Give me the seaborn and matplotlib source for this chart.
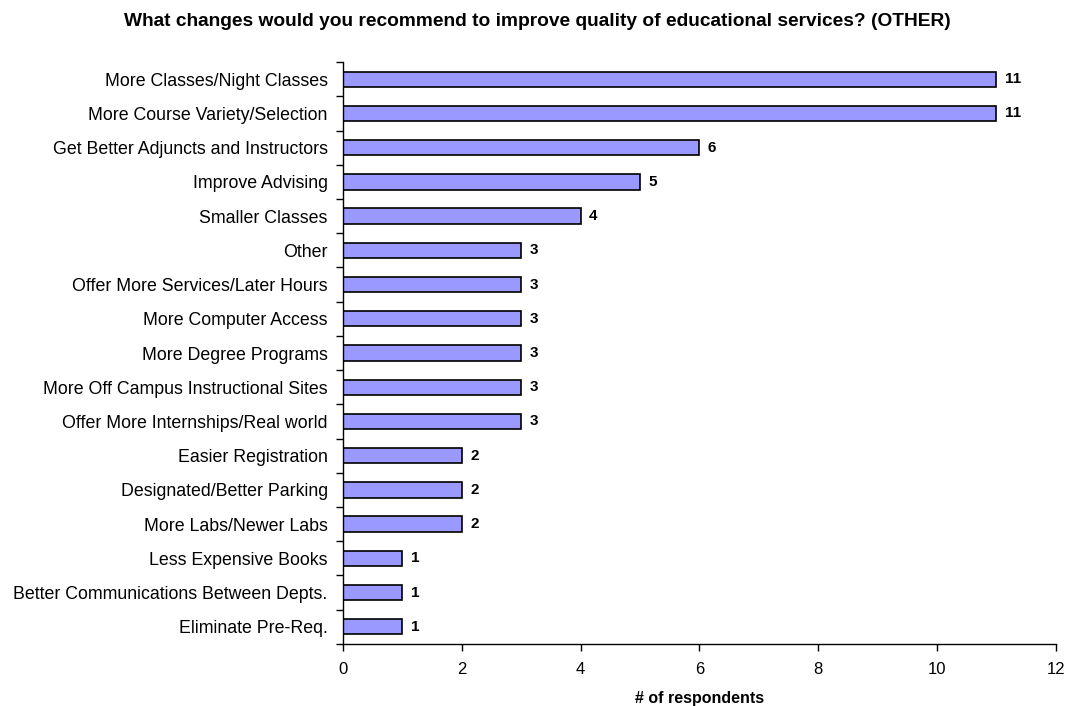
import matplotlib.pyplot as plt
import numpy as np
import pandas as pd
import seaborn as sns

sns.set_style("white")
plt.rcParams["font.family"] = ["Liberation Sans", "DejaVu Sans"]
plt.rcParams["text.color"] = "black"
plt.rcParams["axes.labelcolor"] = "black"
plt.rcParams["xtick.color"] = "black"
plt.rcParams["ytick.color"] = "black"

# Data
categories = [
    "More Classes/Night Classes",
    "More Course Variety/Selection",
    "Get Better Adjuncts and Instructors",
    "Improve Advising",
    "Smaller Classes",
    "Other",
    "Offer More Services/Later Hours",
    "More Computer Access",
    "More Degree Programs",
    "More Off Campus Instructional Sites",
    "Offer More Internships/Real world",
    "Easier Registration",
    "Designated/Better Parking",
    "More Labs/Newer Labs",
    "Less Expensive Books",
    "Better Communications Between Depts.",
    "Eliminate Pre-Req.",
]
counts = [11, 11, 6, 5, 4, 3, 3, 3, 3, 3, 3, 2, 2, 2, 1, 1, 1]
xticks = [0, 2, 4, 6, 8, 10, 12]

df = pd.DataFrame({"Category": categories, "Count": counts})

fig = plt.figure(figsize=(10.75, 7.06), dpi=100)
ax = fig.add_axes([0.319, 0.088, 0.663, 0.824])

sns.barplot(
    data=df,
    x="Count",
    y="Category",
    orient="h",
    color="#9999FF",
    saturation=1,
    width=0.45,
    edgecolor="black",
    linewidth=1.2,
    ax=ax,
)

# value labels next to each bar
for i, v in enumerate(counts):
    ax.text(v + 0.14, i, str(v), va="center", ha="left", fontsize=11, fontweight="bold")

ax.set_xlim(0, 12)
ax.set_ylim(len(categories) - 0.5, -0.5)
ax.set_xticks(xticks)
ax.set_xticklabels([str(t) for t in xticks], fontsize=12)
ax.set_yticks(np.arange(len(categories)))
ax.set_yticklabels(categories, fontsize=12.8)
ax.tick_params(axis="y", which="major", left=True, length=0, pad=11)
ax.set_yticks(np.arange(-0.5, len(categories), 1), minor=True)
ax.tick_params(axis="y", which="minor", left=True, length=5, width=1, color="black", direction="out")
ax.tick_params(axis="x", bottom=True, length=5, width=1, color="black", direction="out", pad=8)

for s in ["top", "right"]:
    ax.spines[s].set_visible(False)
for s in ["left", "bottom"]:
    ax.spines[s].set_color("black")
    ax.spines[s].set_linewidth(1)

ax.set_xlabel("# of respondents", fontsize=11.5, fontweight="bold", labelpad=10)
ax.set_ylabel("")
fig.suptitle(
    "What changes would you recommend to improve quality of educational services? (OTHER)",
    fontsize=13.8,
    fontweight="bold",
    x=0.5,
    y=0.982,
)

fig.savefig("out.png", dpi=100)
